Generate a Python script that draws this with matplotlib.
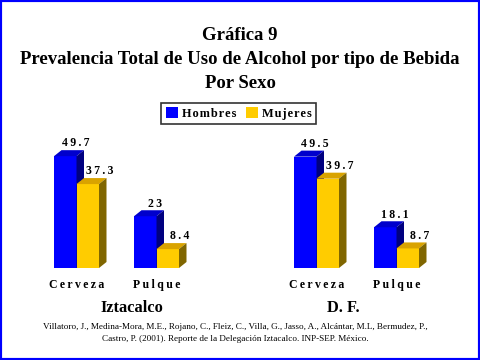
import matplotlib
matplotlib.use("Agg")
import matplotlib.pyplot as plt
from matplotlib.patches import Polygon, Rectangle, Patch

# ---- data ----
groups = ["Iztacalco", "D. F."]
categories = ["Cerveza", "Pulque"]
series = ["Hombres", "Mujeres"]
hombres = [[49.7, 23], [49.5, 18.1]]   # per group: [Cerveza, Pulque]
mujeres = [[37.3, 8.4], [39.7, 8.7]]
value_labels_h = [["49.7", "23"], ["49.5", "18.1"]]
value_labels_m = [["37.3", "8.4"], ["39.7", "8.7"]]

# ---- styles ----
SERIF = ["Liberation Serif", "DejaVu Serif"]
front = ["#0000FF", "#FFCC00"]
top = ["#0000CC", "#D9A300"]
side = ["#000080", "#806600"]

def spaced(s, sep="\u2009"):
    return sep.join(list(s))

fig = plt.figure(figsize=(4.8, 3.6), dpi=100)
fig.patch.set_facecolor("white")

# bars axes: x in pixel units, y in value units (baseline at y=268 px, 2.25 px/unit)
px_per_unit = 2.25
base_px = 268
ymax = 60
ax = fig.add_axes([0, (360 - base_px) / 360, 1, ymax * px_per_unit / 360])
ax.set_xlim(0, 480)
ax.set_ylim(0, ymax)
ax.axis("off")

bw = 22.5          # bar width (px)
dx = 7.5           # depth x (px)
dy = 6 / px_per_unit  # depth y (value units)
group_start = [54, 294]
cat_gap = 80
label_off = [10, 11.5]

def bar3d(xl, v, k):
    ax.add_patch(Polygon([(xl, 0), (xl + bw, 0), (xl + bw, v), (xl, v)],
                         closed=True, fc=front[k], ec="none", zorder=3))
    ax.add_patch(Polygon([(xl, v), (xl + dx, v + dy), (xl + bw + dx, v + dy), (xl + bw, v)],
                         closed=True, fc=top[k], ec="none", zorder=3))
    ax.add_patch(Polygon([(xl + bw, 0), (xl + bw + dx, dy), (xl + bw + dx, v + dy), (xl + bw, v)],
                         closed=True, fc=side[k], ec="none", zorder=3))

for g in range(len(groups)):
    for c in range(len(categories)):
        x0 = group_start[g] + c * cat_gap
        for k, (vals, labs) in enumerate([(hombres, value_labels_h), (mujeres, value_labels_m)]):
            xl = x0 + k * bw
            v = vals[g][c]
            bar3d(xl, v, k)
            ax.text(xl + bw / 2 + label_off[k], v + dy + 0.3, spaced(labs[g][c]),
                    ha="center", va="bottom", fontsize=8.5, fontweight="bold",
                    family=SERIF, color="black", zorder=4)
        # category label
        fig.text((x0 + bw) / 480, 1 - 285 / 360, spaced(categories[c]),
                 ha="center", va="center", fontsize=8.5, fontweight="bold",
                 family=SERIF)

group_label_x = [132, 343]
for g in range(len(groups)):
    fig.text(group_label_x[g] / 480, 1 - 308 / 360, groups[g], ha="center", va="center",
             fontsize=11.8, fontweight="bold", family=SERIF)

# title
title_lines = ["Gráfica 9", "Prevalencia Total de Uso de Alcohol por tipo de Bebida", "Por Sexo"]
title_y = [36, 60, 83]
for t, y in zip(title_lines, title_y):
    fig.text(0.5, 1 - y / 360, t, ha="center", va="center", fontsize=13.5,
             fontweight="bold", family=SERIF)

# legend
handles = [Patch(facecolor=front[i], edgecolor="none") for i in range(2)]
leg = fig.legend(handles, [spaced(s, "\u200a") for s in series], loc="center",
                 bbox_to_anchor=(238.5 / 480, 1 - 113.5 / 360), ncol=2,
                 frameon=True, fancybox=False, handlelength=1.0, handleheight=1.0,
                 handletextpad=0.3, columnspacing=0.8, borderpad=0.35,
                 prop={"family": SERIF, "weight": "bold", "size": 8.8})
leg.get_frame().set_edgecolor("black")
leg.get_frame().set_linewidth(1.2)

# caption
caption = ["Villatoro, J., Medina-Mora, M.E., Rojano, C., Fleiz, C., Villa, G., Jasso, A., Alcántar, M.L, Bermudez, P.,",
           "Castro, P. (2001). Reporte de la Delegación Iztacalco. INP-SEP. México."]
for t, y in zip(caption, [327, 339]):
    fig.text(0.49, 1 - y / 360, t, ha="center", va="center", fontsize=6.6, family=SERIF)

# border
fig.add_artist(Rectangle((0, 0), 1, 1, transform=fig.transFigure, fill=False,
                         edgecolor="#0000FF", linewidth=3))

fig.savefig("out.png", dpi=100, facecolor="white")
